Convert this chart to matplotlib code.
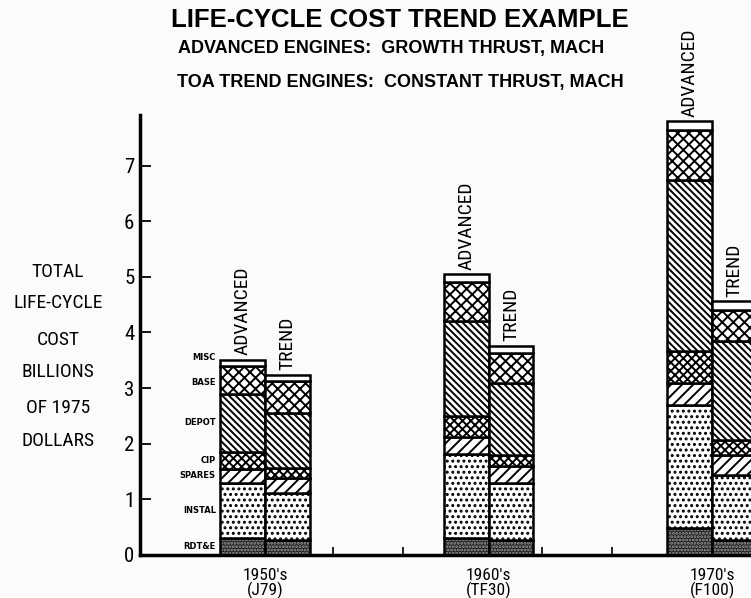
import matplotlib
matplotlib.use('Agg')
from matplotlib import pyplot as plt
from matplotlib import font_manager

# pick a narrow font if one is there
names = {f.name for f in font_manager.fontManager.ttflist}
narrow = 'Liberation Sans'
for cand in ['Liberation Sans Narrow', 'Roboto Condensed', 'Open Sans Condensed']:
    if cand in names:
        narrow = cand
        break
plt.rcParams['font.family'] = [narrow, 'DejaVu Sans']
plt.rcParams['hatch.linewidth'] = 1.4
wide = ['Liberation Sans', 'DejaVu Sans']

decades = ["1950's\n(J79)", "1960's\n(TF30)", "1970's\n(F100)"]
components = ['RDT&E', 'INSTAL', 'SPARES', 'CIP', 'DEPOT', 'BASE', 'MISC']

# billions of 1975 dollars, one list per component, order of decades
adv_rdte = [0.30, 0.30, 0.48]
adv_instal = [1.00, 1.51, 2.22]
adv_spares = [0.25, 0.32, 0.40]
adv_cip = [0.31, 0.37, 0.56]
adv_depot = [1.04, 1.70, 3.09]
adv_base = [0.50, 0.70, 0.89]
adv_misc = [0.11, 0.15, 0.16]

trend_rdte = [0.27, 0.27, 0.27]
trend_instal = [0.84, 1.02, 1.17]
trend_spares = [0.27, 0.31, 0.36]
trend_cip = [0.18, 0.20, 0.27]
trend_depot = [1.00, 1.29, 1.77]
trend_base = [0.56, 0.55, 0.57]
trend_misc = [0.12, 0.12, 0.15]

advanced = [adv_rdte, adv_instal, adv_spares, adv_cip, adv_depot, adv_base, adv_misc]
trend = [trend_rdte, trend_instal, trend_spares, trend_cip, trend_depot, trend_base, trend_misc]

minor_ticks = [0.304, 0.617, 1.239, 1.553]

# face, hatch colour, hatch
styles = [
    ('#1e1e1e', '#9c9c9c', '.....'),
    ('white', 'black', '...'),
    ('white', 'black', '///'),
    ('white', 'black', 'xxxx'),
    ('white', 'black', '\\\\\\\\\\'),
    ('white', 'black', 'xxx'),
    ('white', 'white', ''),
]

fig = plt.figure(figsize=(7.51, 5.98), dpi=100, facecolor='#fbfbfb')
ax = fig.add_axes([140 / 751, 43 / 598, 611 / 751, 440 / 598])
ax.set_facecolor('#fbfbfb')

w = 0.2
for series, shift, name in [(advanced, -w / 2, 'ADVANCED'), (trend, w / 2, 'TREND')]:
    for i in range(len(decades)):
        x = i + shift
        bottom = 0
        for k, vals in enumerate(series):
            face, hc, hatch = styles[k]
            ax.bar(x, vals[i], w, bottom=bottom, color=face, edgecolor=hc,
                   hatch=hatch, linewidth=0)
            ax.bar(x, vals[i], w, bottom=bottom, fill=False, edgecolor='black',
                   linewidth=1.8)
            bottom += vals[i]
        ax.text(x, bottom + 0.08, name, rotation=90, ha='center', va='bottom',
                fontsize=14)

# component names beside the first advanced bar
bottom = 0
for k, vals in enumerate(advanced):
    y = bottom + vals[0] / 2
    if components[k] == 'MISC':
        y += 0.09
    if components[k] == 'BASE':
        y -= 0.05
    ax.text(-w - 0.02, y, components[k], ha='right', va='center',
            fontsize=6, fontweight='bold', family='DejaVu Sans')
    bottom += vals[0]

ax.set_xlim(-0.559, 2.174)
ax.set_ylim(0, 7.91)
ax.set_xticks(range(len(decades)))
ax.set_xticklabels(decades, fontsize=12.5, linespacing=0.95)
ax.set_xticks(minor_ticks, minor=True)
ax.tick_params(axis='x', which='major', length=0, pad=9)
ax.tick_params(axis='x', which='minor', direction='in', length=6, width=1.2)
ax.set_yticks(range(8))
ax.tick_params(axis='y', direction='in', length=8, width=1.3, labelsize=15, pad=4)
for s in ['top', 'right']:
    ax.spines[s].set_visible(False)
ax.spines['left'].set_linewidth(2.5)
ax.spines['bottom'].set_linewidth(2.5)

fig.text(400 / 751, 1 - 20 / 598, 'LIFE-CYCLE COST TREND EXAMPLE', ha='center',
         va='center', fontsize=18.5, fontweight='bold', family=wide)
fig.text(391 / 751, 1 - 48 / 598, 'ADVANCED ENGINES:  GROWTH THRUST, MACH',
         ha='center', va='center', fontsize=13, fontweight='bold', family=wide)
fig.text(400 / 751, 1 - 83 / 598, 'TOA TREND ENGINES:  CONSTANT THRUST, MACH',
         ha='center', va='center', fontsize=13, fontweight='bold', family=wide)

ylabel = ['TOTAL', 'LIFE-CYCLE', 'COST', 'BILLIONS', 'OF 1975', 'DOLLARS']
ylines = [272, 303, 340, 372, 408, 441]
for line, yp in zip(ylabel, ylines):
    fig.text(58 / 751, 1 - yp / 598, line, ha='center', va='center',
             fontsize=14)

fig.savefig('out.png', dpi=100, facecolor=fig.get_facecolor())
